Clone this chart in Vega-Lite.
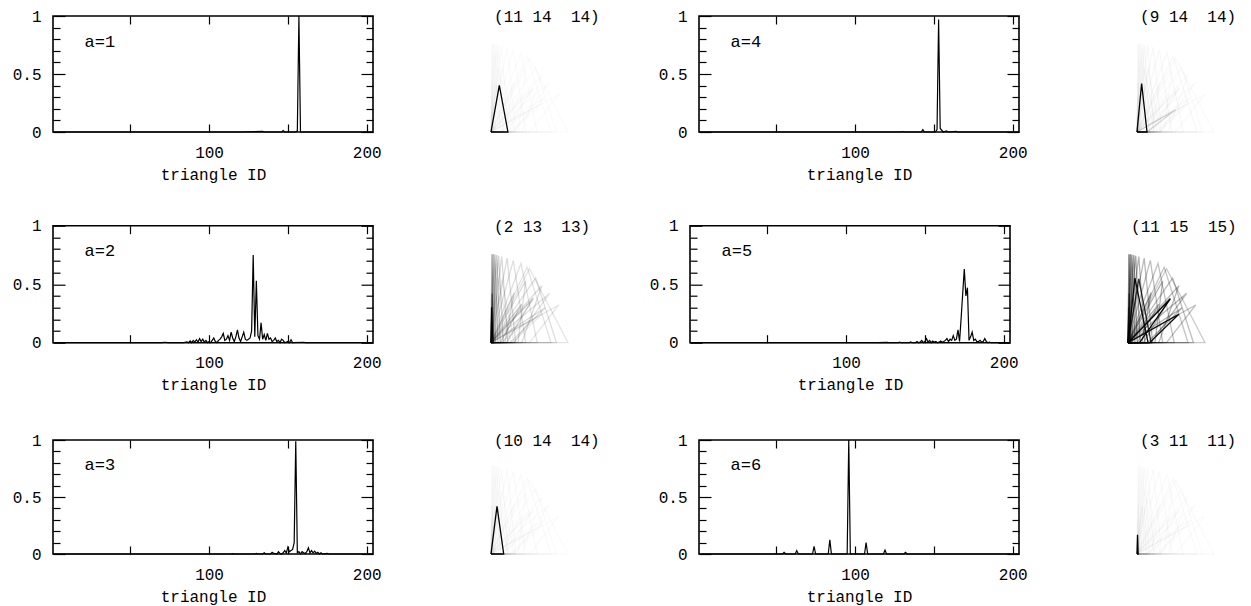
{
"$schema": "https://vega.github.io/schema/vega-lite/v6.json",
"padding": {"left": 11, "top": 7, "right": 0, "bottom": 0},
"config": {
 "view": {"stroke": "black", "strokeWidth": 1.6},
 "font": "Liberation Mono",
 "axis": {"domain": false, "ticks": true, "tickColor": "black", "tickWidth": 1.2, "labelColor": "black", "labelFont": "Liberation Mono", "labelFontSize": 16, "titleFont": "Liberation Mono", "titleFontSize": 16, "titleFontWeight": "normal", "titleColor": "black", "grid": false}
},
"datasets": {
 "prob": [
  {"a":1,"id":1,"v":0},{"a":1,"id":120,"v":0},{"a":1,"id":134,"v":0.005},{"a":1,"id":135,"v":0},{"a":1,"id":146,"v":0},{"a":1,"id":147,"v":0.012},{"a":1,"id":148,"v":0},{"a":1,"id":155,"v":0},{"a":1,"id":156,"v":0.01},{"a":1,"id":157,"v":1},{"a":1,"id":158,"v":0},{"a":1,"id":204,"v":0},
  {"a":2,"id":1,"v":0},{"a":2,"id":70,"v":0},{"a":2,"id":72,"v":0.004},{"a":2,"id":74,"v":0},{"a":2,"id":84,"v":0},{"a":2,"id":86,"v":0.006},{"a":2,"id":87,"v":0},{"a":2,"id":88,"v":0.015},{"a":2,"id":89,"v":0},{"a":2,"id":90,"v":0.02},{"a":2,"id":91,"v":0.005},{"a":2,"id":92,"v":0.025},{"a":2,"id":93,"v":0.005},{"a":2,"id":94,"v":0.035},{"a":2,"id":95,"v":0.01},{"a":2,"id":96,"v":0.03},{"a":2,"id":97,"v":0.005},{"a":2,"id":98,"v":0.02},{"a":2,"id":99,"v":0},{"a":2,"id":100,"v":0.01},{"a":2,"id":101,"v":0},{"a":2,"id":102,"v":0.02},{"a":2,"id":103,"v":0.04},{"a":2,"id":104,"v":0.01},{"a":2,"id":105,"v":0},{"a":2,"id":106,"v":0.02},{"a":2,"id":107,"v":0.03},{"a":2,"id":108,"v":0.05},{"a":2,"id":109,"v":0.08},{"a":2,"id":110,"v":0.02},{"a":2,"id":111,"v":0.03},{"a":2,"id":112,"v":0.06},{"a":2,"id":113,"v":0.02},{"a":2,"id":114,"v":0.09},{"a":2,"id":115,"v":0.04},{"a":2,"id":116,"v":0.01},{"a":2,"id":117,"v":0.05},{"a":2,"id":118,"v":0.11},{"a":2,"id":119,"v":0.04},{"a":2,"id":120,"v":0.01},{"a":2,"id":121,"v":0.05},{"a":2,"id":122,"v":0.09},{"a":2,"id":123,"v":0.03},{"a":2,"id":124,"v":0.02},{"a":2,"id":125,"v":0.03},{"a":2,"id":126,"v":0.04},{"a":2,"id":127,"v":0.1},{"a":2,"id":128,"v":0.75},{"a":2,"id":129,"v":0.05},{"a":2,"id":130,"v":0.53},{"a":2,"id":131,"v":0.06},{"a":2,"id":132,"v":0.03},{"a":2,"id":133,"v":0.17},{"a":2,"id":134,"v":0.03},{"a":2,"id":135,"v":0.07},{"a":2,"id":136,"v":0.02},{"a":2,"id":137,"v":0.08},{"a":2,"id":138,"v":0.03},{"a":2,"id":139,"v":0.04},{"a":2,"id":140,"v":0.01},{"a":2,"id":141,"v":0.02},{"a":2,"id":142,"v":0.04},{"a":2,"id":143,"v":0.01},{"a":2,"id":144,"v":0.02},{"a":2,"id":145,"v":0},{"a":2,"id":146,"v":0.03},{"a":2,"id":147,"v":0.02},{"a":2,"id":148,"v":0},{"a":2,"id":150,"v":0.01},{"a":2,"id":151,"v":0},{"a":2,"id":152,"v":0.025},{"a":2,"id":153,"v":0},{"a":2,"id":160,"v":0.004},{"a":2,"id":161,"v":0},{"a":2,"id":204,"v":0},
  {"a":3,"id":1,"v":0},{"a":3,"id":114,"v":0},{"a":3,"id":115,"v":0.003},{"a":3,"id":116,"v":0},{"a":3,"id":129,"v":0},{"a":3,"id":130,"v":0.005},{"a":3,"id":131,"v":0},{"a":3,"id":134,"v":0},{"a":3,"id":135,"v":0.01},{"a":3,"id":136,"v":0},{"a":3,"id":139,"v":0},{"a":3,"id":140,"v":0.015},{"a":3,"id":141,"v":0.005},{"a":3,"id":142,"v":0.003},{"a":3,"id":143,"v":0},{"a":3,"id":144,"v":0.02},{"a":3,"id":145,"v":0.005},{"a":3,"id":146,"v":0},{"a":3,"id":147,"v":0.01},{"a":3,"id":148,"v":0.03},{"a":3,"id":149,"v":0.01},{"a":3,"id":150,"v":0.06},{"a":3,"id":151,"v":0.02},{"a":3,"id":152,"v":0.03},{"a":3,"id":153,"v":0.04},{"a":3,"id":154,"v":0.1},{"a":3,"id":155,"v":0.99},{"a":3,"id":156,"v":0.01},{"a":3,"id":157,"v":0.02},{"a":3,"id":158,"v":0},{"a":3,"id":159,"v":0.02},{"a":3,"id":160,"v":0.01},{"a":3,"id":161,"v":0.005},{"a":3,"id":162,"v":0.02},{"a":3,"id":163,"v":0.055},{"a":3,"id":164,"v":0.01},{"a":3,"id":165,"v":0.03},{"a":3,"id":166,"v":0.01},{"a":3,"id":167,"v":0.025},{"a":3,"id":168,"v":0.005},{"a":3,"id":169,"v":0.015},{"a":3,"id":170,"v":0},{"a":3,"id":171,"v":0.01},{"a":3,"id":172,"v":0},{"a":3,"id":175,"v":0.005},{"a":3,"id":176,"v":0},{"a":3,"id":204,"v":0},
  {"a":4,"id":1,"v":0},{"a":4,"id":129,"v":0},{"a":4,"id":130,"v":0.004},{"a":4,"id":131,"v":0},{"a":4,"id":142,"v":0},{"a":4,"id":143,"v":0.02},{"a":4,"id":144,"v":0},{"a":4,"id":151,"v":0},{"a":4,"id":152,"v":0.02},{"a":4,"id":153,"v":0.97},{"a":4,"id":154,"v":0.03},{"a":4,"id":155,"v":0.015},{"a":4,"id":156,"v":0},{"a":4,"id":158,"v":0.01},{"a":4,"id":159,"v":0},{"a":4,"id":164,"v":0.006},{"a":4,"id":165,"v":0},{"a":4,"id":204,"v":0},
  {"a":5,"id":1,"v":0},{"a":5,"id":120,"v":0},{"a":5,"id":126,"v":0.003},{"a":5,"id":127,"v":0},{"a":5,"id":133,"v":0},{"a":5,"id":134,"v":0.005},{"a":5,"id":135,"v":0},{"a":5,"id":140,"v":0},{"a":5,"id":141,"v":0.006},{"a":5,"id":142,"v":0},{"a":5,"id":144,"v":0},{"a":5,"id":145,"v":0.01},{"a":5,"id":146,"v":0},{"a":5,"id":147,"v":0.005},{"a":5,"id":148,"v":0.02},{"a":5,"id":149,"v":0},{"a":5,"id":150,"v":0.01},{"a":5,"id":151,"v":0.035},{"a":5,"id":152,"v":0.005},{"a":5,"id":153,"v":0.02},{"a":5,"id":154,"v":0},{"a":5,"id":155,"v":0.015},{"a":5,"id":156,"v":0.005},{"a":5,"id":157,"v":0.01},{"a":5,"id":158,"v":0},{"a":5,"id":159,"v":0.005},{"a":5,"id":160,"v":0.015},{"a":5,"id":161,"v":0.005},{"a":5,"id":162,"v":0.01},{"a":5,"id":163,"v":0.02},{"a":5,"id":164,"v":0.035},{"a":5,"id":165,"v":0.01},{"a":5,"id":166,"v":0.03},{"a":5,"id":167,"v":0.02},{"a":5,"id":168,"v":0.06},{"a":5,"id":169,"v":0.02},{"a":5,"id":170,"v":0.03},{"a":5,"id":171,"v":0.11},{"a":5,"id":172,"v":0.01},{"a":5,"id":173,"v":0.21},{"a":5,"id":174,"v":0.42},{"a":5,"id":175,"v":0.63},{"a":5,"id":176,"v":0.4},{"a":5,"id":177,"v":0.47},{"a":5,"id":178,"v":0.02},{"a":5,"id":179,"v":0.05},{"a":5,"id":180,"v":0.09},{"a":5,"id":181,"v":0.02},{"a":5,"id":182,"v":0.03},{"a":5,"id":183,"v":0.01},{"a":5,"id":184,"v":0.01},{"a":5,"id":185,"v":0.02},{"a":5,"id":186,"v":0.005},{"a":5,"id":187,"v":0.01},{"a":5,"id":188,"v":0.035},{"a":5,"id":189,"v":0.01},{"a":5,"id":190,"v":0},{"a":5,"id":191,"v":0.005},{"a":5,"id":192,"v":0},{"a":5,"id":204,"v":0},
  {"a":6,"id":1,"v":0},{"a":6,"id":54,"v":0},{"a":6,"id":55,"v":0.015},{"a":6,"id":56,"v":0},{"a":6,"id":62,"v":0},{"a":6,"id":63,"v":0.03},{"a":6,"id":64,"v":0},{"a":6,"id":73,"v":0},{"a":6,"id":74,"v":0.067},{"a":6,"id":75,"v":0},{"a":6,"id":83,"v":0},{"a":6,"id":84,"v":0.125},{"a":6,"id":85,"v":0},{"a":6,"id":95,"v":0},{"a":6,"id":96,"v":1},{"a":6,"id":97,"v":0},{"a":6,"id":106,"v":0},{"a":6,"id":107,"v":0.1},{"a":6,"id":108,"v":0},{"a":6,"id":118,"v":0},{"a":6,"id":119,"v":0.035},{"a":6,"id":120,"v":0},{"a":6,"id":131,"v":0},{"a":6,"id":132,"v":0.015},{"a":6,"id":133,"v":0},{"a":6,"id":204,"v":0}
 ],
 "shapes": [
  {"t":1,"k":0,"x":0,"y":0},{"t":1,"k":1,"x":0.03,"y":0},{"t":1,"k":2,"x":0.012,"y":1.15},{"t":1,"k":3,"x":0,"y":0},
  {"t":2,"k":0,"x":0,"y":0},{"t":2,"k":1,"x":0.06,"y":0},{"t":2,"k":2,"x":0.03,"y":1.15},{"t":2,"k":3,"x":0,"y":0},
  {"t":3,"k":0,"x":0,"y":0},{"t":3,"k":1,"x":0.09,"y":0},{"t":3,"k":2,"x":0.05,"y":1.145},{"t":3,"k":3,"x":0,"y":0},
  {"t":4,"k":0,"x":0,"y":0},{"t":4,"k":1,"x":0.12,"y":0},{"t":4,"k":2,"x":0.075,"y":1.14},{"t":4,"k":3,"x":0,"y":0},
  {"t":5,"k":0,"x":0,"y":0},{"t":5,"k":1,"x":0.16,"y":0},{"t":5,"k":2,"x":0.1,"y":1.13},{"t":5,"k":3,"x":0,"y":0},
  {"t":6,"k":0,"x":0,"y":0},{"t":6,"k":1,"x":0.22,"y":0},{"t":6,"k":2,"x":0.14,"y":1.12},{"t":6,"k":3,"x":0,"y":0},
  {"t":7,"k":0,"x":0,"y":0},{"t":7,"k":1,"x":0.32,"y":0},{"t":7,"k":2,"x":0.21,"y":1.1},{"t":7,"k":3,"x":0,"y":0},
  {"t":8,"k":0,"x":0,"y":0},{"t":8,"k":1,"x":0.45,"y":0},{"t":8,"k":2,"x":0.29,"y":1.07},{"t":8,"k":3,"x":0,"y":0},
  {"t":9,"k":0,"x":0,"y":0},{"t":9,"k":1,"x":0.6,"y":0},{"t":9,"k":2,"x":0.39,"y":1.03},{"t":9,"k":3,"x":0,"y":0},
  {"t":10,"k":0,"x":0,"y":0},{"t":10,"k":1,"x":0.78,"y":0},{"t":10,"k":2,"x":0.47,"y":0.98},{"t":10,"k":3,"x":0,"y":0},
  {"t":11,"k":0,"x":0,"y":0},{"t":11,"k":1,"x":1,"y":0},{"t":11,"k":2,"x":0.5,"y":0.96},{"t":11,"k":3,"x":0,"y":0},
  {"t":12,"k":0,"x":0,"y":0},{"t":12,"k":1,"x":0.85,"y":0},{"t":12,"k":2,"x":0.58,"y":0.84},{"t":12,"k":3,"x":0,"y":0},
  {"t":13,"k":0,"x":0,"y":0},{"t":13,"k":1,"x":0.4,"y":0},{"t":13,"k":2,"x":0.66,"y":0.74},{"t":13,"k":3,"x":0,"y":0},
  {"t":14,"k":0,"x":0,"y":0},{"t":14,"k":1,"x":0.3,"y":0},{"t":14,"k":2,"x":0.76,"y":0.64},{"t":14,"k":3,"x":0,"y":0},
  {"t":15,"k":0,"x":0,"y":0},{"t":15,"k":1,"x":0.5,"y":0},{"t":15,"k":2,"x":0.88,"y":0.49},{"t":15,"k":3,"x":0,"y":0},
  {"t":16,"k":0,"x":0,"y":0},{"t":16,"k":1,"x":0.2,"y":0},{"t":16,"k":2,"x":0.55,"y":0.58},{"t":16,"k":3,"x":0,"y":0},
  {"t":17,"k":0,"x":0,"y":0},{"t":17,"k":1,"x":0.25,"y":0},{"t":17,"k":2,"x":0.7,"y":0.45},{"t":17,"k":3,"x":0,"y":0},
  {"t":18,"k":0,"x":0,"y":0},{"t":18,"k":1,"x":0.12,"y":0},{"t":18,"k":2,"x":0.4,"y":0.5},{"t":18,"k":3,"x":0,"y":0},
  {"t":19,"k":0,"x":0,"y":0},{"t":19,"k":1,"x":0.35,"y":0},{"t":19,"k":2,"x":0.45,"y":0.8},{"t":19,"k":3,"x":0,"y":0},
  {"t":20,"k":0,"x":0,"y":0},{"t":20,"k":1,"x":0.18,"y":0},{"t":20,"k":2,"x":0.3,"y":0.65},{"t":20,"k":3,"x":0,"y":0},
  {"t":21,"k":0,"x":0,"y":0},{"t":21,"k":1,"x":0.22,"y":0},{"t":21,"k":2,"x":0.108,"y":0.606},{"t":21,"k":3,"x":0,"y":0},
  {"t":22,"k":0,"x":0,"y":0},{"t":22,"k":1,"x":0.165,"y":0},{"t":22,"k":2,"x":0.078,"y":0.62},{"t":22,"k":3,"x":0,"y":0},
  {"t":23,"k":0,"x":0,"y":0},{"t":23,"k":1,"x":0.13,"y":0},{"t":23,"k":2,"x":0.06,"y":0.63},{"t":23,"k":3,"x":0,"y":0},
  {"t":24,"k":0,"x":0,"y":0},{"t":24,"k":1,"x":0.13,"y":0},{"t":24,"k":2,"x":0.5,"y":0.29},{"t":24,"k":3,"x":0,"y":0},
  {"t":25,"k":0,"x":0,"y":0},{"t":25,"k":1,"x":0.015,"y":0},{"t":25,"k":2,"x":0.007,"y":0.25},{"t":25,"k":3,"x":0,"y":0},
  {"t":26,"k":0,"x":0,"y":0},{"t":26,"k":1,"x":0.04,"y":0},{"t":26,"k":2,"x":0.015,"y":0.64},{"t":26,"k":3,"x":0,"y":0},
  {"t":27,"k":0,"x":0,"y":0},{"t":27,"k":1,"x":0.025,"y":0},{"t":27,"k":2,"x":0.008,"y":0.46},{"t":27,"k":3,"x":0,"y":0},
  {"t":28,"k":0,"x":0,"y":0},{"t":28,"k":1,"x":0.26,"y":0},{"t":28,"k":2,"x":0.09,"y":0.84},{"t":28,"k":3,"x":0,"y":0},
  {"t":29,"k":0,"x":0,"y":0},{"t":29,"k":1,"x":0.3,"y":0},{"t":29,"k":2,"x":0.14,"y":0.83},{"t":29,"k":3,"x":0,"y":0},
  {"t":30,"k":0,"x":0,"y":0},{"t":30,"k":1,"x":0.15,"y":0},{"t":30,"k":2,"x":0.55,"y":0.57},{"t":30,"k":3,"x":0,"y":0},
  {"t":31,"k":0,"x":0,"y":0},{"t":31,"k":1,"x":0.28,"y":0},{"t":31,"k":2,"x":0.66,"y":0.37},{"t":31,"k":3,"x":0,"y":0}
 ],
 "weights": [
  {"t":1,"a1":0.025,"a2":0.32,"a3":0.025,"a4":0.03,"a5":0.5,"a6":0.025},
  {"t":2,"a1":0.025,"a2":0.28,"a3":0.025,"a4":0.03,"a5":0.45,"a6":0.025},
  {"t":3,"a1":0.025,"a2":0.25,"a3":0.025,"a4":0.03,"a5":0.42,"a6":0.025},
  {"t":4,"a1":0.025,"a2":0.2,"a3":0.025,"a4":0.03,"a5":0.38,"a6":0.025},
  {"t":5,"a1":0.025,"a2":0.17,"a3":0.025,"a4":0.03,"a5":0.35,"a6":0.025},
  {"t":6,"a1":0.02,"a2":0.15,"a3":0.025,"a4":0.03,"a5":0.3,"a6":0.025},
  {"t":7,"a1":0.02,"a2":0.14,"a3":0.025,"a4":0.03,"a5":0.28,"a6":0.025},
  {"t":8,"a1":0.02,"a2":0.13,"a3":0.025,"a4":0.03,"a5":0.26,"a6":0.025},
  {"t":9,"a1":0.02,"a2":0.12,"a3":0.025,"a4":0.03,"a5":0.25,"a6":0.025},
  {"t":10,"a1":0.02,"a2":0.11,"a3":0.025,"a4":0.03,"a5":0.23,"a6":0.025},
  {"t":11,"a1":0.02,"a2":0.1,"a3":0.02,"a4":0.025,"a5":0.2,"a6":0.025},
  {"t":12,"a1":0.02,"a2":0.13,"a3":0.02,"a4":0.025,"a5":0.25,"a6":0.02},
  {"t":13,"a1":0.02,"a2":0.14,"a3":0.02,"a4":0.025,"a5":0.28,"a6":0.02},
  {"t":14,"a1":0.02,"a2":0.12,"a3":0.02,"a4":0.025,"a5":0.3,"a6":0.02},
  {"t":15,"a1":0.02,"a2":0.1,"a3":0.02,"a4":0.025,"a5":0.25,"a6":0.02},
  {"t":16,"a1":0.02,"a2":0.18,"a3":0.02,"a4":0.025,"a5":0.3,"a6":0.02},
  {"t":17,"a1":0.02,"a2":0.15,"a3":0.02,"a4":0.025,"a5":0.32,"a6":0.02},
  {"t":18,"a1":0.02,"a2":0.22,"a3":0.02,"a4":0.025,"a5":0.35,"a6":0.02},
  {"t":19,"a1":0.02,"a2":0.14,"a3":0.02,"a4":0.025,"a5":0.3,"a6":0.02},
  {"t":20,"a1":0.02,"a2":0.16,"a3":0.02,"a4":0.025,"a5":0.35,"a6":0.02},
  {"t":21,"a1":1,"a2":0.04,"a3":0.03,"a4":0.03,"a5":0.05,"a6":0.02},
  {"t":22,"a1":0.02,"a2":0.04,"a3":1,"a4":0.03,"a5":0.05,"a6":0.02},
  {"t":23,"a1":0.02,"a2":0.04,"a3":0.03,"a4":1,"a5":0.05,"a6":0.02},
  {"t":24,"a1":0.02,"a2":0.07,"a3":0.02,"a4":0.15,"a5":0.1,"a6":0.02},
  {"t":25,"a1":0.02,"a2":0.07,"a3":0.02,"a4":0.03,"a5":0.1,"a6":1},
  {"t":26,"a1":0.02,"a2":0.45,"a3":0.03,"a4":0.03,"a5":0.5,"a6":0.02},
  {"t":27,"a1":0.02,"a2":1,"a3":0.03,"a4":0.03,"a5":0.5,"a6":0.02},
  {"t":28,"a1":0.02,"a2":0.08,"a3":0.02,"a4":0.03,"a5":0.95,"a6":0.02},
  {"t":29,"a1":0.02,"a2":0.08,"a3":0.02,"a4":0.03,"a5":0.8,"a6":0.02},
  {"t":30,"a1":0.02,"a2":0.08,"a3":0.02,"a4":0.03,"a5":0.95,"a6":0.02},
  {"t":31,"a1":0.02,"a2":0.08,"a3":0.02,"a4":0.03,"a5":0.95,"a6":0.02}
 ]
},
"vconcat": [
 {"vconcat": [
 {"hconcat": [
  {"hconcat": [
   {"width": 320, "height": 116, "data": {"name": "prob"}, "transform": [{"filter": "datum.a == 1"}],
    "layer": [
     {"mark": {"type": "line", "color": "black", "strokeWidth": 1.2},
      "encoding": {"x": {"field": "id", "type": "quantitative", "scale": {"domain": [1, 204], "nice": false, "zero": false}, "axis": {"orient": "bottom", "values": [50, 100, 150, 200], "labelExpr": "datum.value == 100 || datum.value == 200 ? datum.label : ''", "tickSize": 8, "offset": -8, "labelPadding": 12, "labelFlush": false, "title": "triangle ID", "titlePadding": 6}},
       "y": {"field": "v", "type": "quantitative", "scale": {"domain": [0, 1], "nice": false}, "axis": {"orient": "left", "values": [0, 0.5, 1], "labelExpr": "datum.value == 0 ? '0' : datum.value == 1 ? '1' : '0.5'", "tickSize": 12, "offset": -12, "labelPadding": 12, "labelFlush": false, "title": null}}}},
     {"mark": {"type": "line", "opacity": 0},
      "encoding": {"x": {"field": "id", "type": "quantitative", "axis": {"orient": "top", "values": [50, 100, 150, 200], "labels": false, "tickSize": 8, "offset": -8, "title": null}},
       "y": {"field": "v", "type": "quantitative", "axis": {"orient": "right", "values": [0, 0.5, 1], "labels": false, "tickSize": 12, "offset": -12, "title": null}}}},
     {"mark": {"type": "line", "opacity": 0},
      "encoding": {"x": {"field": "id", "type": "quantitative", "axis": null},
       "y": {"field": "v", "type": "quantitative", "axis": {"orient": "left", "values": [0.1, 0.2, 0.3, 0.4, 0.6, 0.7, 0.8, 0.9], "labels": false, "tickSize": 7, "offset": -7, "title": null}}}},
     {"mark": {"type": "line", "opacity": 0},
      "encoding": {"x": {"field": "id", "type": "quantitative", "axis": null},
       "y": {"field": "v", "type": "quantitative", "axis": {"orient": "right", "values": [0.1, 0.2, 0.3, 0.4, 0.6, 0.7, 0.8, 0.9], "labels": false, "tickSize": 7, "offset": -7, "title": null}}}},
     {"data": {"values": [{"a": 1, "label": "a=1"}]},
      "mark": {"type": "text", "align": "left", "baseline": "middle", "fontSize": 17, "font": "Liberation Mono", "color": "black"},
      "encoding": {"x": {"datum": 21, "type": "quantitative", "axis": null}, "y": {"datum": 0.78, "type": "quantitative", "axis": null}, "text": {"field": "label"}}}
    ],
    "resolve": {"axis": {"x": "independent", "y": "independent"}}},
   {"width": 77, "height": 116, "view": {"stroke": null},
    "layer": [
     {"data": {"name": "shapes"},
      "transform": [{"lookup": "t", "from": {"data": {"name": "weights"}, "key": "t", "fields": ["a1"]}}],
      "mark": {"type": "line", "strokeWidth": 1.3, "color": "black"},
      "encoding": {"x": {"field": "x", "type": "quantitative", "scale": {"domain": [0, 1], "nice": false, "zero": false}, "axis": null},
       "y": {"field": "y", "type": "quantitative", "scale": {"domain": [0, 1.5065], "nice": false}, "axis": null},
       "detail": {"field": "t", "type": "nominal"}, "order": {"field": "k", "type": "quantitative"},
       "opacity": {"field": "a1", "type": "quantitative", "scale": {"domain": [0, 1], "range": [0, 1]}, "legend": null}}},
     {"data": {"values": [{"label": "(11 14\u00a0\u00a014)"}]},
      "mark": {"type": "text", "align": "left", "baseline": "middle", "fontSize": 16, "font": "Liberation Mono", "color": "black"},
      "encoding": {"x": {"datum": 0.04, "type": "quantitative"}, "y": {"datum": 1.4935, "type": "quantitative"}, "text": {"field": "label"}}}
    ]}
  ], "spacing": 106},
  {"hconcat": [
   {"width": 320, "height": 116, "data": {"name": "prob"}, "transform": [{"filter": "datum.a == 4"}],
    "layer": [
     {"mark": {"type": "line", "color": "black", "strokeWidth": 1.2},
      "encoding": {"x": {"field": "id", "type": "quantitative", "scale": {"domain": [1, 204], "nice": false, "zero": false}, "axis": {"orient": "bottom", "values": [50, 100, 150, 200], "labelExpr": "datum.value == 100 || datum.value == 200 ? datum.label : ''", "tickSize": 8, "offset": -8, "labelPadding": 12, "labelFlush": false, "title": "triangle ID", "titlePadding": 6}},
       "y": {"field": "v", "type": "quantitative", "scale": {"domain": [0, 1], "nice": false}, "axis": {"orient": "left", "values": [0, 0.5, 1], "labelExpr": "datum.value == 0 ? '0' : datum.value == 1 ? '1' : '0.5'", "tickSize": 12, "offset": -12, "labelPadding": 12, "labelFlush": false, "title": null}}}},
     {"mark": {"type": "line", "opacity": 0},
      "encoding": {"x": {"field": "id", "type": "quantitative", "axis": {"orient": "top", "values": [50, 100, 150, 200], "labels": false, "tickSize": 8, "offset": -8, "title": null}},
       "y": {"field": "v", "type": "quantitative", "axis": {"orient": "right", "values": [0, 0.5, 1], "labels": false, "tickSize": 12, "offset": -12, "title": null}}}},
     {"mark": {"type": "line", "opacity": 0},
      "encoding": {"x": {"field": "id", "type": "quantitative", "axis": null},
       "y": {"field": "v", "type": "quantitative", "axis": {"orient": "left", "values": [0.1, 0.2, 0.3, 0.4, 0.6, 0.7, 0.8, 0.9], "labels": false, "tickSize": 7, "offset": -7, "title": null}}}},
     {"mark": {"type": "line", "opacity": 0},
      "encoding": {"x": {"field": "id", "type": "quantitative", "axis": null},
       "y": {"field": "v", "type": "quantitative", "axis": {"orient": "right", "values": [0.1, 0.2, 0.3, 0.4, 0.6, 0.7, 0.8, 0.9], "labels": false, "tickSize": 7, "offset": -7, "title": null}}}},
     {"data": {"values": [{"a": 4, "label": "a=4"}]},
      "mark": {"type": "text", "align": "left", "baseline": "middle", "fontSize": 17, "font": "Liberation Mono", "color": "black"},
      "encoding": {"x": {"datum": 21, "type": "quantitative", "axis": null}, "y": {"datum": 0.78, "type": "quantitative", "axis": null}, "text": {"field": "label"}}}
    ],
    "resolve": {"axis": {"x": "independent", "y": "independent"}}},
   {"width": 77, "height": 116, "view": {"stroke": null},
    "layer": [
     {"data": {"name": "shapes"},
      "transform": [{"lookup": "t", "from": {"data": {"name": "weights"}, "key": "t", "fields": ["a4"]}}],
      "mark": {"type": "line", "strokeWidth": 1.3, "color": "black"},
      "encoding": {"x": {"field": "x", "type": "quantitative", "scale": {"domain": [0, 1], "nice": false, "zero": false}, "axis": null},
       "y": {"field": "y", "type": "quantitative", "scale": {"domain": [0, 1.5065], "nice": false}, "axis": null},
       "detail": {"field": "t", "type": "nominal"}, "order": {"field": "k", "type": "quantitative"},
       "opacity": {"field": "a4", "type": "quantitative", "scale": {"domain": [0, 1], "range": [0, 1]}, "legend": null}}},
     {"data": {"values": [{"label": "(9 14\u00a0\u00a014)"}]},
      "mark": {"type": "text", "align": "left", "baseline": "middle", "fontSize": 16, "font": "Liberation Mono", "color": "black"},
      "encoding": {"x": {"datum": 0.04, "type": "quantitative"}, "y": {"datum": 1.4935, "type": "quantitative"}, "text": {"field": "label"}}}
    ]}
  ], "spacing": 106}
 ], "spacing": 57},
 {"hconcat": [
  {"hconcat": [
   {"width": 320, "height": 117, "data": {"name": "prob"}, "transform": [{"filter": "datum.a == 2"}],
    "layer": [
     {"mark": {"type": "line", "color": "black", "strokeWidth": 1.2},
      "encoding": {"x": {"field": "id", "type": "quantitative", "scale": {"domain": [1, 204], "nice": false, "zero": false}, "axis": {"orient": "bottom", "values": [50, 100, 150, 200], "labelExpr": "datum.value == 100 || datum.value == 200 ? datum.label : ''", "tickSize": 8, "offset": -8, "labelPadding": 12, "labelFlush": false, "title": "triangle ID", "titlePadding": 6}},
       "y": {"field": "v", "type": "quantitative", "scale": {"domain": [0, 1], "nice": false}, "axis": {"orient": "left", "values": [0, 0.5, 1], "labelExpr": "datum.value == 0 ? '0' : datum.value == 1 ? '1' : '0.5'", "tickSize": 12, "offset": -12, "labelPadding": 12, "labelFlush": false, "title": null}}}},
     {"mark": {"type": "line", "opacity": 0},
      "encoding": {"x": {"field": "id", "type": "quantitative", "axis": {"orient": "top", "values": [50, 100, 150, 200], "labels": false, "tickSize": 8, "offset": -8, "title": null}},
       "y": {"field": "v", "type": "quantitative", "axis": {"orient": "right", "values": [0, 0.5, 1], "labels": false, "tickSize": 12, "offset": -12, "title": null}}}},
     {"mark": {"type": "line", "opacity": 0},
      "encoding": {"x": {"field": "id", "type": "quantitative", "axis": null},
       "y": {"field": "v", "type": "quantitative", "axis": {"orient": "left", "values": [0.1, 0.2, 0.3, 0.4, 0.6, 0.7, 0.8, 0.9], "labels": false, "tickSize": 7, "offset": -7, "title": null}}}},
     {"mark": {"type": "line", "opacity": 0},
      "encoding": {"x": {"field": "id", "type": "quantitative", "axis": null},
       "y": {"field": "v", "type": "quantitative", "axis": {"orient": "right", "values": [0.1, 0.2, 0.3, 0.4, 0.6, 0.7, 0.8, 0.9], "labels": false, "tickSize": 7, "offset": -7, "title": null}}}},
     {"data": {"values": [{"a": 2, "label": "a=2"}]},
      "mark": {"type": "text", "align": "left", "baseline": "middle", "fontSize": 17, "font": "Liberation Mono", "color": "black"},
      "encoding": {"x": {"datum": 21, "type": "quantitative", "axis": null}, "y": {"datum": 0.78, "type": "quantitative", "axis": null}, "text": {"field": "label"}}}
    ],
    "resolve": {"axis": {"x": "independent", "y": "independent"}}},
   {"width": 77, "height": 117, "view": {"stroke": null},
    "layer": [
     {"data": {"name": "shapes"},
      "transform": [{"lookup": "t", "from": {"data": {"name": "weights"}, "key": "t", "fields": ["a2"]}}],
      "mark": {"type": "line", "strokeWidth": 1.3, "color": "black"},
      "encoding": {"x": {"field": "x", "type": "quantitative", "scale": {"domain": [0, 1], "nice": false, "zero": false}, "axis": null},
       "y": {"field": "y", "type": "quantitative", "scale": {"domain": [0, 1.5195], "nice": false}, "axis": null},
       "detail": {"field": "t", "type": "nominal"}, "order": {"field": "k", "type": "quantitative"},
       "opacity": {"field": "a2", "type": "quantitative", "scale": {"domain": [0, 1], "range": [0, 1]}, "legend": null}}},
     {"data": {"values": [{"label": "(2 13\u00a0\u00a013)"}]},
      "mark": {"type": "text", "align": "left", "baseline": "middle", "fontSize": 16, "font": "Liberation Mono", "color": "black"},
      "encoding": {"x": {"datum": 0.04, "type": "quantitative"}, "y": {"datum": 1.5065, "type": "quantitative"}, "text": {"field": "label"}}}
    ]}
  ], "spacing": 106},
  {"hconcat": [
   {"width": 320, "height": 117, "data": {"name": "prob"}, "transform": [{"filter": "datum.a == 5"}],
    "layer": [
     {"mark": {"type": "line", "color": "black", "strokeWidth": 1.2},
      "encoding": {"x": {"field": "id", "type": "quantitative", "scale": {"domain": [1, 204], "nice": false, "zero": false}, "axis": {"orient": "bottom", "values": [50, 100, 150, 200], "labelExpr": "datum.value == 100 || datum.value == 200 ? datum.label : ''", "tickSize": 8, "offset": -8, "labelPadding": 12, "labelFlush": false, "title": "triangle ID", "titlePadding": 6}},
       "y": {"field": "v", "type": "quantitative", "scale": {"domain": [0, 1], "nice": false}, "axis": {"orient": "left", "values": [0, 0.5, 1], "labelExpr": "datum.value == 0 ? '0' : datum.value == 1 ? '1' : '0.5'", "tickSize": 12, "offset": -12, "labelPadding": 12, "labelFlush": false, "title": null}}}},
     {"mark": {"type": "line", "opacity": 0},
      "encoding": {"x": {"field": "id", "type": "quantitative", "axis": {"orient": "top", "values": [50, 100, 150, 200], "labels": false, "tickSize": 8, "offset": -8, "title": null}},
       "y": {"field": "v", "type": "quantitative", "axis": {"orient": "right", "values": [0, 0.5, 1], "labels": false, "tickSize": 12, "offset": -12, "title": null}}}},
     {"mark": {"type": "line", "opacity": 0},
      "encoding": {"x": {"field": "id", "type": "quantitative", "axis": null},
       "y": {"field": "v", "type": "quantitative", "axis": {"orient": "left", "values": [0.1, 0.2, 0.3, 0.4, 0.6, 0.7, 0.8, 0.9], "labels": false, "tickSize": 7, "offset": -7, "title": null}}}},
     {"mark": {"type": "line", "opacity": 0},
      "encoding": {"x": {"field": "id", "type": "quantitative", "axis": null},
       "y": {"field": "v", "type": "quantitative", "axis": {"orient": "right", "values": [0.1, 0.2, 0.3, 0.4, 0.6, 0.7, 0.8, 0.9], "labels": false, "tickSize": 7, "offset": -7, "title": null}}}},
     {"data": {"values": [{"a": 5, "label": "a=5"}]},
      "mark": {"type": "text", "align": "left", "baseline": "middle", "fontSize": 17, "font": "Liberation Mono", "color": "black"},
      "encoding": {"x": {"datum": 21, "type": "quantitative", "axis": null}, "y": {"datum": 0.78, "type": "quantitative", "axis": null}, "text": {"field": "label"}}}
    ],
    "resolve": {"axis": {"x": "independent", "y": "independent"}}},
   {"width": 77, "height": 117, "view": {"stroke": null},
    "layer": [
     {"data": {"name": "shapes"},
      "transform": [{"lookup": "t", "from": {"data": {"name": "weights"}, "key": "t", "fields": ["a5"]}}],
      "mark": {"type": "line", "strokeWidth": 1.3, "color": "black"},
      "encoding": {"x": {"field": "x", "type": "quantitative", "scale": {"domain": [0, 1], "nice": false, "zero": false}, "axis": null},
       "y": {"field": "y", "type": "quantitative", "scale": {"domain": [0, 1.5195], "nice": false}, "axis": null},
       "detail": {"field": "t", "type": "nominal"}, "order": {"field": "k", "type": "quantitative"},
       "opacity": {"field": "a5", "type": "quantitative", "scale": {"domain": [0, 1], "range": [0, 1]}, "legend": null}}},
     {"data": {"values": [{"label": "(11 15\u00a0\u00a015)"}]},
      "mark": {"type": "text", "align": "left", "baseline": "middle", "fontSize": 16, "font": "Liberation Mono", "color": "black"},
      "encoding": {"x": {"datum": 0.04, "type": "quantitative"}, "y": {"datum": 1.5065, "type": "quantitative"}, "text": {"field": "label"}}}
    ]}
  ], "spacing": 106}
 ], "spacing": 57}
 ], "spacing": 33.7},
 {"hconcat": [
  {"hconcat": [
   {"width": 320, "height": 114, "data": {"name": "prob"}, "transform": [{"filter": "datum.a == 3"}],
    "layer": [
     {"mark": {"type": "line", "color": "black", "strokeWidth": 1.2},
      "encoding": {"x": {"field": "id", "type": "quantitative", "scale": {"domain": [1, 204], "nice": false, "zero": false}, "axis": {"orient": "bottom", "values": [50, 100, 150, 200], "labelExpr": "datum.value == 100 || datum.value == 200 ? datum.label : ''", "tickSize": 8, "offset": -8, "labelPadding": 12, "labelFlush": false, "title": "triangle ID", "titlePadding": 6}},
       "y": {"field": "v", "type": "quantitative", "scale": {"domain": [0, 1], "nice": false}, "axis": {"orient": "left", "values": [0, 0.5, 1], "labelExpr": "datum.value == 0 ? '0' : datum.value == 1 ? '1' : '0.5'", "tickSize": 12, "offset": -12, "labelPadding": 12, "labelFlush": false, "title": null}}}},
     {"mark": {"type": "line", "opacity": 0},
      "encoding": {"x": {"field": "id", "type": "quantitative", "axis": {"orient": "top", "values": [50, 100, 150, 200], "labels": false, "tickSize": 8, "offset": -8, "title": null}},
       "y": {"field": "v", "type": "quantitative", "axis": {"orient": "right", "values": [0, 0.5, 1], "labels": false, "tickSize": 12, "offset": -12, "title": null}}}},
     {"mark": {"type": "line", "opacity": 0},
      "encoding": {"x": {"field": "id", "type": "quantitative", "axis": null},
       "y": {"field": "v", "type": "quantitative", "axis": {"orient": "left", "values": [0.1, 0.2, 0.3, 0.4, 0.6, 0.7, 0.8, 0.9], "labels": false, "tickSize": 7, "offset": -7, "title": null}}}},
     {"mark": {"type": "line", "opacity": 0},
      "encoding": {"x": {"field": "id", "type": "quantitative", "axis": null},
       "y": {"field": "v", "type": "quantitative", "axis": {"orient": "right", "values": [0.1, 0.2, 0.3, 0.4, 0.6, 0.7, 0.8, 0.9], "labels": false, "tickSize": 7, "offset": -7, "title": null}}}},
     {"data": {"values": [{"a": 3, "label": "a=3"}]},
      "mark": {"type": "text", "align": "left", "baseline": "middle", "fontSize": 17, "font": "Liberation Mono", "color": "black"},
      "encoding": {"x": {"datum": 21, "type": "quantitative", "axis": null}, "y": {"datum": 0.78, "type": "quantitative", "axis": null}, "text": {"field": "label"}}}
    ],
    "resolve": {"axis": {"x": "independent", "y": "independent"}}},
   {"width": 77, "height": 114, "view": {"stroke": null},
    "layer": [
     {"data": {"name": "shapes"},
      "transform": [{"lookup": "t", "from": {"data": {"name": "weights"}, "key": "t", "fields": ["a3"]}}],
      "mark": {"type": "line", "strokeWidth": 1.3, "color": "black"},
      "encoding": {"x": {"field": "x", "type": "quantitative", "scale": {"domain": [0, 1], "nice": false, "zero": false}, "axis": null},
       "y": {"field": "y", "type": "quantitative", "scale": {"domain": [0, 1.4805], "nice": false}, "axis": null},
       "detail": {"field": "t", "type": "nominal"}, "order": {"field": "k", "type": "quantitative"},
       "opacity": {"field": "a3", "type": "quantitative", "scale": {"domain": [0, 1], "range": [0, 1]}, "legend": null}}},
     {"data": {"values": [{"label": "(10 14\u00a0\u00a014)"}]},
      "mark": {"type": "text", "align": "left", "baseline": "middle", "fontSize": 16, "font": "Liberation Mono", "color": "black"},
      "encoding": {"x": {"datum": 0.04, "type": "quantitative"}, "y": {"datum": 1.4675, "type": "quantitative"}, "text": {"field": "label"}}}
    ]}
  ], "spacing": 106},
  {"hconcat": [
   {"width": 320, "height": 114, "data": {"name": "prob"}, "transform": [{"filter": "datum.a == 6"}],
    "layer": [
     {"mark": {"type": "line", "color": "black", "strokeWidth": 1.2},
      "encoding": {"x": {"field": "id", "type": "quantitative", "scale": {"domain": [1, 204], "nice": false, "zero": false}, "axis": {"orient": "bottom", "values": [50, 100, 150, 200], "labelExpr": "datum.value == 100 || datum.value == 200 ? datum.label : ''", "tickSize": 8, "offset": -8, "labelPadding": 12, "labelFlush": false, "title": "triangle ID", "titlePadding": 6}},
       "y": {"field": "v", "type": "quantitative", "scale": {"domain": [0, 1], "nice": false}, "axis": {"orient": "left", "values": [0, 0.5, 1], "labelExpr": "datum.value == 0 ? '0' : datum.value == 1 ? '1' : '0.5'", "tickSize": 12, "offset": -12, "labelPadding": 12, "labelFlush": false, "title": null}}}},
     {"mark": {"type": "line", "opacity": 0},
      "encoding": {"x": {"field": "id", "type": "quantitative", "axis": {"orient": "top", "values": [50, 100, 150, 200], "labels": false, "tickSize": 8, "offset": -8, "title": null}},
       "y": {"field": "v", "type": "quantitative", "axis": {"orient": "right", "values": [0, 0.5, 1], "labels": false, "tickSize": 12, "offset": -12, "title": null}}}},
     {"mark": {"type": "line", "opacity": 0},
      "encoding": {"x": {"field": "id", "type": "quantitative", "axis": null},
       "y": {"field": "v", "type": "quantitative", "axis": {"orient": "left", "values": [0.1, 0.2, 0.3, 0.4, 0.6, 0.7, 0.8, 0.9], "labels": false, "tickSize": 7, "offset": -7, "title": null}}}},
     {"mark": {"type": "line", "opacity": 0},
      "encoding": {"x": {"field": "id", "type": "quantitative", "axis": null},
       "y": {"field": "v", "type": "quantitative", "axis": {"orient": "right", "values": [0.1, 0.2, 0.3, 0.4, 0.6, 0.7, 0.8, 0.9], "labels": false, "tickSize": 7, "offset": -7, "title": null}}}},
     {"data": {"values": [{"a": 6, "label": "a=6"}]},
      "mark": {"type": "text", "align": "left", "baseline": "middle", "fontSize": 17, "font": "Liberation Mono", "color": "black"},
      "encoding": {"x": {"datum": 21, "type": "quantitative", "axis": null}, "y": {"datum": 0.78, "type": "quantitative", "axis": null}, "text": {"field": "label"}}}
    ],
    "resolve": {"axis": {"x": "independent", "y": "independent"}}},
   {"width": 77, "height": 114, "view": {"stroke": null},
    "layer": [
     {"data": {"name": "shapes"},
      "transform": [{"lookup": "t", "from": {"data": {"name": "weights"}, "key": "t", "fields": ["a6"]}}],
      "mark": {"type": "line", "strokeWidth": 1.3, "color": "black"},
      "encoding": {"x": {"field": "x", "type": "quantitative", "scale": {"domain": [0, 1], "nice": false, "zero": false}, "axis": null},
       "y": {"field": "y", "type": "quantitative", "scale": {"domain": [0, 1.4805], "nice": false}, "axis": null},
       "detail": {"field": "t", "type": "nominal"}, "order": {"field": "k", "type": "quantitative"},
       "opacity": {"field": "a6", "type": "quantitative", "scale": {"domain": [0, 1], "range": [0, 1]}, "legend": null}}},
     {"data": {"values": [{"label": "(3 11\u00a0\u00a011)"}]},
      "mark": {"type": "text", "align": "left", "baseline": "middle", "fontSize": 16, "font": "Liberation Mono", "color": "black"},
      "encoding": {"x": {"datum": 0.04, "type": "quantitative"}, "y": {"datum": 1.4675, "type": "quantitative"}, "text": {"field": "label"}}}
    ]}
  ], "spacing": 106}
 ], "spacing": 57}
],
"spacing": 37
}
